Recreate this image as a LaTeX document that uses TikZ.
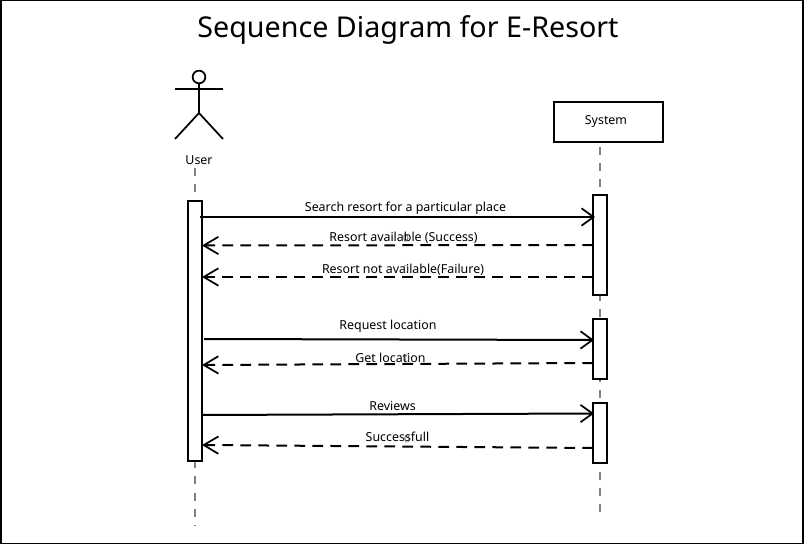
\documentclass[tikz,border=0pt]{standalone}
\usepackage{fontspec}
\setmainfont{Noto Sans}
\usetikzlibrary{arrows.meta}
\tikzset{
  lifeline/.style={draw=black!50, line width=1.1pt, dash pattern=on 6pt off 6.17pt},
  actbar/.style={draw, fill=white, line width=1.5pt, minimum width=10.5pt, inner sep=0pt, anchor=north},
  msgcall/.style={line width=1.5pt, -{Straight Barb[length=9pt,width=13pt,line width=1.3pt]}},
  msgback/.style={line width=1.5pt, dash pattern=on 8pt off 5.5pt, -{Straight Barb[length=11pt,width=13pt,line width=1.3pt]}},
  msglabel/.style={font=\fontsize{9.3pt}{10pt}\selectfont, inner sep=0pt},
  msgmark/.style={font=\fontsize{6.5pt}{8pt}\selectfont, inner sep=0pt, text=black!70},
}
\begin{document}
\begin{tikzpicture}[x=0.75pt,y=-0.75pt]
\useasboundingbox (0,0) rectangle (804,545);
\draw[line width=1.1pt] (1,0.5) rectangle (803,543.5);
\node[font=\fontsize{21.5pt}{24pt}\selectfont, inner sep=0pt] (title) at (408,30) {Sequence Diagram for E-Resort};
% user
\node[circle, draw, line width=1.3pt, minimum size=9.5pt, inner sep=0pt] (head) at (199,77) {};
\coordinate (hip) at (199,113);
\coordinate (armL) at (175,89);
\coordinate (armR) at (223,89);
\coordinate (legL) at (175,139);
\coordinate (legR) at (223,139);
\draw[line width=1.3pt] (head) -- (hip);
\draw[line width=1.3pt] (armL) -- (armR);
\draw[line width=1.3pt] (legL) -- (hip) -- (legR);
\node[msglabel] (user) at (199,160) {User};
% system
\node[draw, line width=1.5pt, minimum width=81.5pt, minimum height=29.5pt, inner sep=0pt] (system) at (608.5,122) {};
\node[msglabel] (systxt) at (606,121.5) {System};
% lifelines
\coordinate (uTop) at (195,168);
\coordinate (uEnd) at (195,526);
\coordinate (sEnd) at (600,515);
\coordinate (sTop) at (600,147);
\draw[lifeline] (uTop) -- (uEnd);
\draw[lifeline] (sTop) -- (sEnd);
% bars
\node[actbar, minimum height=195pt] (barU) at (195,200.5) {};
\node[actbar, minimum height=75pt] (barA) at (600,194.5) {};
\node[actbar, minimum height=45pt] (barB) at (600,318) {};
\node[actbar, minimum height=45pt] (barC) at (600,402.5) {};
% messages
\coordinate (m1a) at (200,217);   \coordinate (m1b) at (595,217);
\coordinate (m2a) at (593,245);   \coordinate (m2b) at (202,245.5);
\coordinate (m3a) at (593,277);   \coordinate (m3b) at (202,277);
\coordinate (m4a) at (204,339);   \coordinate (m4b) at (594,340);
\coordinate (m5a) at (593,363);   \coordinate (m5b) at (202,365);
\coordinate (m6a) at (202,415);   \coordinate (m6b) at (594,413.5);
\coordinate (m7a) at (593,448);   \coordinate (m7b) at (202,445);
\draw[msgcall] (m1a) -- (m1b);
\draw[msgback] (m2a) -- (m2b);
\draw[msgback] (m3a) -- (m3b);
\draw[msgcall] (m4a) -- (m4b);
\draw[msgback] (m5a) -- (m5b);
\draw[msgcall] (m6a) -- (m6b);
\draw[msgback] (m7a) -- (m7b);
% labels
\node[msglabel] (t1) at (405.5,208.5) {Search resort for a particular place};
\node[msglabel] (t2) at (403.5,238) {Resort available (Success)};
\node[msglabel] (t3) at (403,269.5) {Resort not available(Failure)};
\node[msglabel] (t4) at (388,326.5) {Request location};
\node[msglabel] (t5) at (390.5,357.5) {Get location};
\node[msglabel] (t6) at (392.5,406) {Reviews};
\node[msglabel] (t7) at (397.5,437) {Successfull};
\node[msgmark] (k2) at (406,238) {()};
\node[msgmark] (k3) at (406,269) {()};
\node[msgmark] (k5) at (407,358) {()};
\node[msgmark] (k7) at (407,439) {()};
\end{tikzpicture}
\end{document}
